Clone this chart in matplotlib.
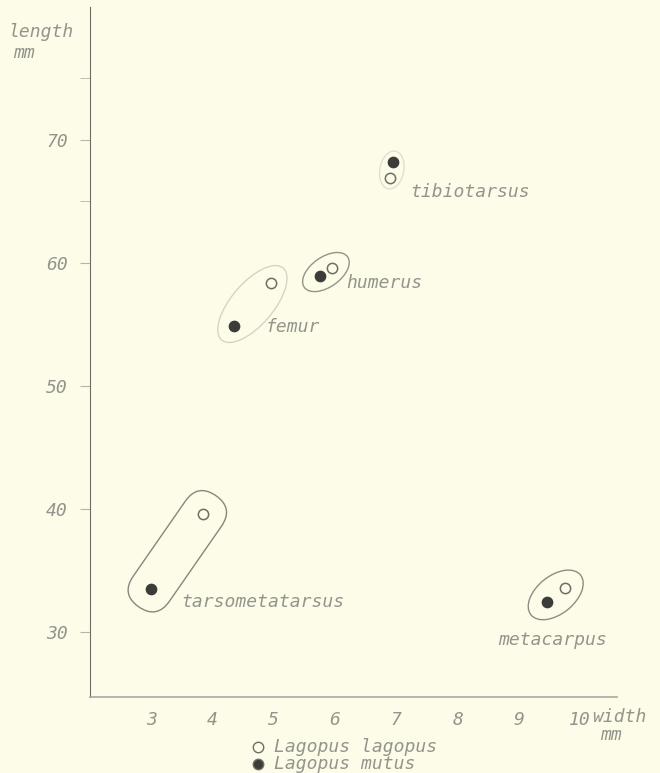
import numpy as np
import matplotlib
matplotlib.use("Agg")
import matplotlib.pyplot as plt
from matplotlib.patches import Ellipse, FancyBboxPatch
from matplotlib.lines import Line2D
from matplotlib.transforms import Affine2D, ScaledTranslation, IdentityTransform

# bone measurements, width (mm) and length (mm)
bones = ["tarsometatarsus", "femur", "humerus", "tibiotarsus", "metacarpus"]
lagopus_width = [3.85, 4.95, 5.95, 6.9, 9.75]
lagopus_length = [39.6, 58.4, 59.6, 66.9, 33.6]
mutus_width = [3.0, 4.35, 5.75, 6.95, 9.45]
mutus_length = [33.5, 54.9, 58.9, 68.2, 32.4]

x_ticks = [3, 4, 5, 6, 7, 8, 9, 10]
y_ticks = [30, 40, 50, 60, 70]

BG = "#fcfce8"
TXT = "#94948c"
LINE = "#7a7a72"
FONT = dict(family="DejaVu Sans Mono", style="italic", color=TXT, fontsize=13)

fig = plt.figure(figsize=(6.6, 7.73), dpi=100, facecolor=BG)
ax = fig.add_axes([90 / 660, 1 - 697 / 773, 527 / 660, 690 / 773], facecolor=BG)
ax.set_xlim(2.0, 10.6)
ax.set_ylim(24.7, 80.8)

for s in ["top", "right"]:
    ax.spines[s].set_visible(False)
ax.spines["left"].set_color("#6e6e66")
ax.spines["bottom"].set_color("#a8a8a0")
ax.spines["bottom"].set_linewidth(1.2)

ax.set_xticks(x_ticks)
ax.set_xticklabels([str(t) for t in x_ticks], **FONT)
ax.set_yticks(y_ticks)
ax.set_yticklabels([str(t) for t in y_ticks], **FONT)
ax.set_yticks([65, 75], minor=True)
ax.tick_params(axis="x", length=0, pad=10)
ax.tick_params(axis="y", which="both", length=7, color="#b4b4ac", pad=9)

# enclosing outlines around each pair, sizes in pixels
shapes = {
    "tarsometatarsus": ("capsule", 44, 44, 0.9),
    "femur": ("ellipse", 38, 42, 0.3),
    "humerus": ("ellipse", 38, 30, 0.8),
    "tibiotarsus": ("ellipse", 22, 24, 0.22),
    "metacarpus": ("ellipse", 40, 38, 0.85),
}
for i, bone in enumerate(bones):
    kind, pad, width, alpha = shapes[bone]
    p0 = ax.transData.transform((mutus_width[i], mutus_length[i]))
    p1 = ax.transData.transform((lagopus_width[i], lagopus_length[i]))
    ang = np.degrees(np.arctan2(p1[1] - p0[1], p1[0] - p0[0]))
    dist = np.hypot(*(p1 - p0))
    cx = (mutus_width[i] + lagopus_width[i]) / 2
    cy = (mutus_length[i] + lagopus_length[i]) / 2
    tr = Affine2D().rotate_deg(ang) + IdentityTransform() + ScaledTranslation(cx, cy, ax.transData)
    if kind == "capsule":
        L = dist + pad
        patch = FancyBboxPatch((-L / 2, -width / 2), L, width,
                               boxstyle="round,pad=0,rounding_size=%f" % (width / 2),
                               transform=tr, fill=False, ec=LINE, lw=1.0, alpha=alpha)
    else:
        patch = Ellipse((0, 0), dist + pad, width, transform=tr,
                        fill=False, ec=LINE, lw=1.0, alpha=alpha)
    ax.add_patch(patch)

ax.scatter(lagopus_width, lagopus_length, s=55, facecolor=BG, edgecolor="#6e6e66",
           linewidth=1.1, zorder=3, clip_on=False)
ax.scatter(mutus_width, mutus_length, s=55, color="#3c3c38", zorder=3, clip_on=False)

# bone labels, offsets in pixels from a point
label_pos = {
    "tarsometatarsus": ("mutus", 30, -13),
    "femur": ("mutus", 32, -1),
    "humerus": ("lagopus", 14, -15),
    "tibiotarsus": ("lagopus", 20, -14),
    "metacarpus": ("mutus", -48, -38),
}
for i, bone in enumerate(bones):
    ref, dx, dy = label_pos[bone]
    xy = (mutus_width[i], mutus_length[i]) if ref == "mutus" else (lagopus_width[i], lagopus_length[i])
    ax.annotate(bone, xy, xytext=(dx, dy), textcoords="offset pixels",
                ha="left", va="center", **FONT)

# axis captions
fig.text(8 / 660, 1 - 32 / 773, "length", ha="left", va="center", **FONT)
fig.text(13 / 660, 1 - 53 / 773, "mm", ha="left", va="center", **FONT)
fig.text(592 / 660, 1 - 717 / 773, "width", ha="left", va="center", **FONT)
fig.text(600 / 660, 1 - 735 / 773, "mm", ha="left", va="center", **FONT)

# legend under the axis
for yy, fc, name in [(747, BG, "Lagopus lagopus"), (764, "#3c3c38", "Lagopus mutus")]:
    fig.add_artist(Line2D([258 / 660], [1 - yy / 773], marker="o", markersize=7.5,
                          markerfacecolor=fc, markeredgecolor="#6e6e66",
                          markeredgewidth=1.0, transform=fig.transFigure))
    fig.text(274 / 660, 1 - yy / 773, name, ha="left", va="center", **FONT)

fig.savefig("out.png", dpi=100, facecolor=BG)
